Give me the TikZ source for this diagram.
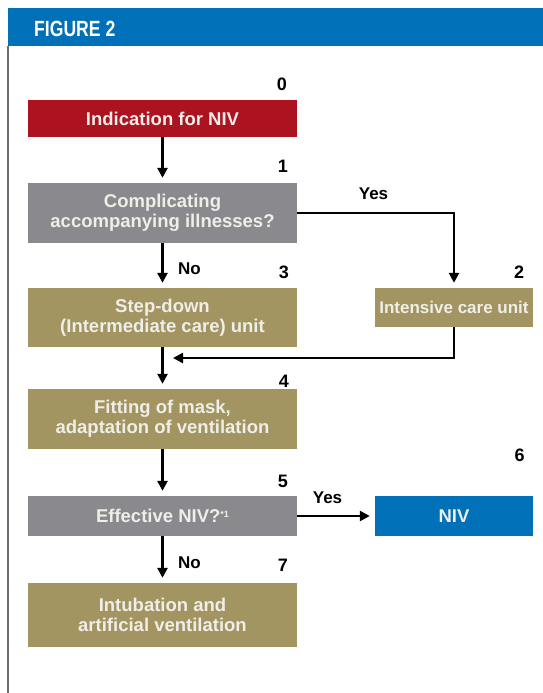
\documentclass[tikz,border=0pt]{standalone}
\usepackage{graphicx}
\usepackage{fontspec}
\setmainfont{Liberation Sans}
\usetikzlibrary{arrows.meta}
\definecolor{hdrblue}{RGB}{0,112,184}
\definecolor{nivred}{RGB}{172,18,32}
\definecolor{boxgray}{RGB}{138,138,142}
\definecolor{boxtan}{RGB}{163,149,98}
\definecolor{boxtext}{RGB}{240,238,232}
\definecolor{framegray}{RGB}{110,110,110}
\begin{document}
\begin{tikzpicture}[x=1pt,y=-1pt,
  flowbox/.style={rectangle, inner sep=0pt, align=center, text=boxtext,
    font=\bfseries\fontsize{18.5}{20}\selectfont},
  mainbox/.style={flowbox, minimum width=269pt},
  sidebox/.style={flowbox, minimum width=158pt},
  numlabel/.style={font=\bfseries\fontsize{18}{20}\selectfont, inner sep=0pt},
  yesno/.style={font=\bfseries\fontsize{17}{20}\selectfont, inner sep=0pt},
  flowarrow/.style={line width=2.5pt, -{Triangle[length=10pt,width=10pt]}, shorten >=5pt},
  joinarrow/.style={line width=2.5pt, -{Triangle[length=10pt,width=10pt]}}
]
% canvas
\fill[white] (0,0) rectangle (543,693);
\useasboundingbox (0,0) rectangle (543,693);
% header and frame
\fill[hdrblue] (7.5,8) rectangle (543,46);
\draw[framegray, line width=1.5pt] (8,46) -- (8,693);
\node[anchor=base west, text=white, inner sep=0pt,
  font=\bfseries\fontsize{22}{24}\selectfont] (title) at (34,36.5)
  {\scalebox{0.8}[1]{FIGURE 2}};

% boxes
\node[mainbox, fill=nivred, minimum height=37pt] (b0) at (162.5,118.5) {Indication for NIV};
\node[mainbox, fill=boxgray, minimum height=60pt] (b1) at (162.5,213) {Complicating\\accompanying illnesses?};
\node[mainbox, fill=boxtan, minimum height=59pt] (b3) at (162.5,317.5) {Step-down\\(Intermediate care) unit};
\node[sidebox, fill=boxtan, minimum height=39pt, font=\bfseries\fontsize{17}{20}\selectfont] (b2) at (454,307.5) {Intensive care unit};
\node[mainbox, fill=boxtan, minimum height=60pt] (b4) at (162.5,419) {Fitting of mask,\\adaptation of ventilation};
\node[mainbox, fill=boxgray, minimum height=40pt] (b5) at (162.5,516) {Effective NIV?\raisebox{5pt}{\fontsize{9}{9}\selectfont *1}};
\node[sidebox, fill=hdrblue, minimum height=40pt] (b6) at (454,516) {NIV};
\node[mainbox, fill=boxtan, minimum height=64pt] (b7) at (162.5,615) {Intubation and\\artificial ventilation};

% step numbers
\node[numlabel] (n0) at (282,84) {0};
\node[numlabel] (n1) at (283,166.5) {1};
\node[numlabel] (n3) at (284,272.5) {3};
\node[numlabel] (n2) at (519,272.5) {2};
\node[numlabel] (n4) at (284,381.5) {4};
\node[numlabel] (n6) at (519.5,455.5) {6};
\node[numlabel] (n5) at (283,481.5) {5};
\node[numlabel] (n7) at (283,565) {7};

% yes / no labels
\node[yesno] (y1) at (373.5,194) {Yes};
\node[yesno] (no1) at (189.5,269) {No};
\node[yesno] (y2) at (327.5,498) {Yes};
\node[yesno] (no2) at (189.5,563) {No};

% connectors
\coordinate (join) at (173,358);
\draw[flowarrow] (b0.south) -- (b1.north);
\draw[flowarrow] (b1.south) -- (b3.north);
\draw[flowarrow] (b1.east) -| (b2.north);
\draw[joinarrow] (b2.south) |- (join);
\draw[flowarrow] (b3.south) -- (b4.north);
\draw[flowarrow] (b4.south) -- (b5.north);
\draw[flowarrow] (b5.east) -- (b6.west);
\draw[flowarrow] (b5.south) -- (b7.north);
\end{tikzpicture}
\end{document}
